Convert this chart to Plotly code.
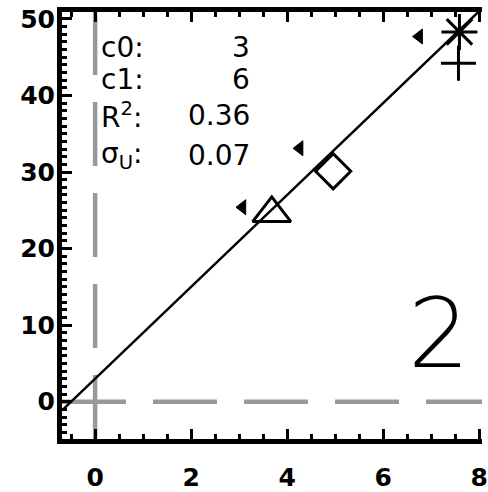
import plotly.graph_objects as go

# Fit coefficients and summary statistics shown in the panel
c0 = 3
c1 = 6
r2_text = "0.36"
sigma_text = "0.07"
panel_label = "2"

# Measured points (one symbol per sample)
point_x = [3.68, 4.96, 7.59, 7.57]
point_y = [24.6, 30.1, 48.3, 44.2]
point_symbol = ["triangle-up-open", "diamond-open", "asterisk-open", "cross-thin-open"]
point_size = [33, 27, 30, 25]

# Small pointer markers beside the points
pointer_x = [3.07, 4.26, 6.75]
pointer_y = [25.4, 33.1, 47.7]

# Axis ranges and ticks
x_range = [-0.69, 8.06]
y_range = [-4.87, 50.9]
x_tick_step = 2
y_tick_step = 10

W, H = 488, 492
M_L, M_R, M_T, M_B = 62, 0, 12, 45
PLOT_W = W - M_L - M_R
PLOT_H = H - M_T - M_B


def px_x(p):
    return (p - M_L) / PLOT_W


def px_y(p):
    return (H - M_B - p) / PLOT_H


fit_x = list(x_range)
fit_y = [c0 + c1 * v for v in fit_x]

fig = go.Figure()

fig.add_trace(go.Scatter(
    x=fit_x, y=fit_y, mode="lines",
    line=dict(color="black", width=2.5),
    showlegend=False, hoverinfo="skip",
))

fig.add_trace(go.Scatter(
    x=point_x, y=point_y, mode="markers",
    marker=dict(symbol=point_symbol, size=point_size, color="black", opacity=1,
                line=dict(color="black", width=3)),
    showlegend=False, cliponaxis=False,
))

fig.add_trace(go.Scatter(
    x=pointer_x, y=pointer_y, mode="markers",
    marker=dict(symbol="triangle-left", size=13, color="black", opacity=1,
                line=dict(color="black", width=1)),
    showlegend=False,
))

grey = "#999999"
dash = "64px,27px"
fig.add_shape(type="line", xref="x", yref="paper", x0=0, x1=0, y0=0, y1=1,
              line=dict(color=grey, width=4.5, dash=dash), layer="below")
fig.add_shape(type="line", xref="paper", yref="y", x0=0, x1=1, y0=0, y1=0,
              line=dict(color=grey, width=4.5, dash=dash), layer="below")

text_font = dict(family="DejaVu Sans", size=28, color="black")
rows = [
    ("c0:", str(c0), 48.5),
    ("c1:", str(c1), 81),
    ("R<sup>2</sup>:", r2_text, 117.5),
    ("σ<sub>U</sub>:", sigma_text, 158),
]
for name, val, yc in rows:
    fig.add_annotation(x=px_x(100), y=px_y(yc), xref="paper", yref="paper",
                       text=name, showarrow=False, xanchor="left", yanchor="middle",
                       font=text_font)
    fig.add_annotation(x=px_x(255), y=px_y(yc), xref="paper", yref="paper",
                       text=val, showarrow=False, xanchor="right", yanchor="middle",
                       font=text_font)

fig.add_annotation(x=px_x(444), y=px_y(339.5), xref="paper", yref="paper",
                   text=panel_label, showarrow=False, xanchor="center", yanchor="middle",
                   font=dict(family="DejaVu Sans", size=97, color="black", weight=200))

tick_font = dict(family="DejaVu Sans", size=25, color="black", weight="bold")
axis_common = dict(
    showline=True, linewidth=5, linecolor="black",
    ticks="inside", ticklen=10, tickwidth=3, tickcolor="black",
    showgrid=False, zeroline=False, tickfont=tick_font,
    ticklabeloverflow="allow",
)

fig.update_xaxes(range=x_range, tick0=0, dtick=x_tick_step, mirror="allticks",
                 minor=dict(ticks="inside", ticklen=5, tickwidth=3, tickcolor="black",
                            tick0=0, dtick=0.5, showgrid=False),
                 ticklabelstandoff=12, **axis_common)
fig.update_yaxes(range=y_range, tick0=0, dtick=y_tick_step, mirror=False,
                 minor=dict(ticks="inside", ticklen=5, tickwidth=3, tickcolor="black",
                            tick0=0, dtick=1, showgrid=False),
                 ticklabelstandoff=-3, **axis_common)

fig.update_layout(
    width=W, height=H,
    margin=dict(l=M_L, r=M_R, t=M_T, b=M_B, pad=0),
    paper_bgcolor="white", plot_bgcolor="white",
    showlegend=False,
)

fig.write_html("out.html")
